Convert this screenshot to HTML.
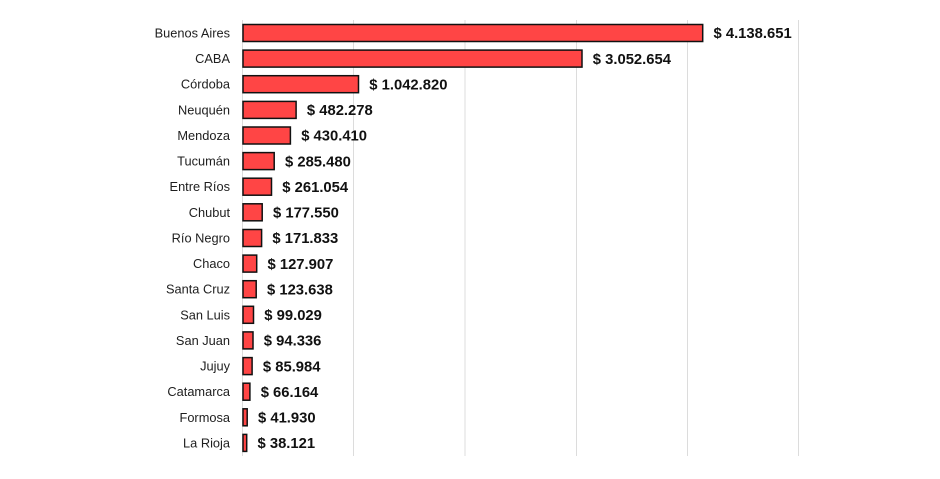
<!DOCTYPE html>
<html><head><meta charset="utf-8"><style>
html,body{margin:0;padding:0;background:#fff;}
svg{display:block;}
.c{font-family:"Liberation Sans",sans-serif;font-size:12.8px;fill:#1e1e1e;text-anchor:end;}
.v{font-family:"Liberation Sans",sans-serif;font-size:14.8px;font-weight:bold;fill:#111;}
</style></head><body>
<svg width="940" height="479" viewBox="0 0 940 479" xmlns="http://www.w3.org/2000/svg">
<g stroke="#dcdcdc" stroke-width="1">
<line x1="242.5" y1="20" x2="242.5" y2="456"/>
<line x1="353.5" y1="20" x2="353.5" y2="456"/>
<line x1="465" y1="20" x2="465" y2="456"/>
<line x1="576.5" y1="20" x2="576.5" y2="456"/>
<line x1="687.5" y1="20" x2="687.5" y2="456"/>
<line x1="798.5" y1="20" x2="798.5" y2="456"/>
</g>
<g fill="#ff4545" stroke="#111" stroke-width="1.5">
<rect x="243" y="24.5" width="459.7" height="17"/>
<rect x="243" y="50.1" width="339" height="17"/>
<rect x="243" y="75.7" width="115.5" height="17"/>
<rect x="243" y="101.4" width="53.1" height="17"/>
<rect x="243" y="127" width="47.4" height="17"/>
<rect x="243" y="152.6" width="31.2" height="17"/>
<rect x="243" y="178.2" width="28.5" height="17"/>
<rect x="243" y="203.8" width="19.2" height="17"/>
<rect x="243" y="229.5" width="18.6" height="17"/>
<rect x="243" y="255.1" width="13.7" height="17"/>
<rect x="243" y="280.7" width="13.2" height="17"/>
<rect x="243" y="306.3" width="10.5" height="17"/>
<rect x="243" y="331.9" width="10" height="17"/>
<rect x="243" y="357.6" width="9.1" height="17"/>
<rect x="243" y="383.2" width="6.9" height="17"/>
<rect x="243" y="408.8" width="4.2" height="17"/>
<rect x="243" y="434.4" width="3.7" height="17"/>
</g>
<g class="c">
<text x="230" y="37.5">Buenos Aires</text>
<text x="230" y="63.1">CABA</text>
<text x="230" y="88.7">Córdoba</text>
<text x="230" y="114.4">Neuquén</text>
<text x="230" y="140">Mendoza</text>
<text x="230" y="165.6">Tucumán</text>
<text x="230" y="191.2">Entre Ríos</text>
<text x="230" y="216.8">Chubut</text>
<text x="230" y="242.5">Río Negro</text>
<text x="230" y="268.1">Chaco</text>
<text x="230" y="293.7">Santa Cruz</text>
<text x="230" y="319.3">San Luis</text>
<text x="230" y="344.9">San Juan</text>
<text x="230" y="370.6">Jujuy</text>
<text x="230" y="396.2">Catamarca</text>
<text x="230" y="421.8">Formosa</text>
<text x="230" y="447.4">La Rioja</text>
</g>
<g class="v">
<text x="713.5" y="38.2">$ 4.138.651</text>
<text x="592.8" y="63.8">$ 3.052.654</text>
<text x="369.3" y="89.4">$ 1.042.820</text>
<text x="306.9" y="115.1">$ 482.278</text>
<text x="301.2" y="140.7">$ 430.410</text>
<text x="285" y="166.3">$ 285.480</text>
<text x="282.3" y="191.9">$ 261.054</text>
<text x="273" y="217.5">$ 177.550</text>
<text x="272.4" y="243.2">$ 171.833</text>
<text x="267.5" y="268.8">$ 127.907</text>
<text x="267" y="294.4">$ 123.638</text>
<text x="264.3" y="320">$ 99.029</text>
<text x="263.8" y="345.6">$ 94.336</text>
<text x="262.9" y="371.3">$ 85.984</text>
<text x="260.7" y="396.9">$ 66.164</text>
<text x="258" y="422.5">$ 41.930</text>
<text x="257.5" y="448.1">$ 38.121</text>
</g>
</svg>
</body></html>
